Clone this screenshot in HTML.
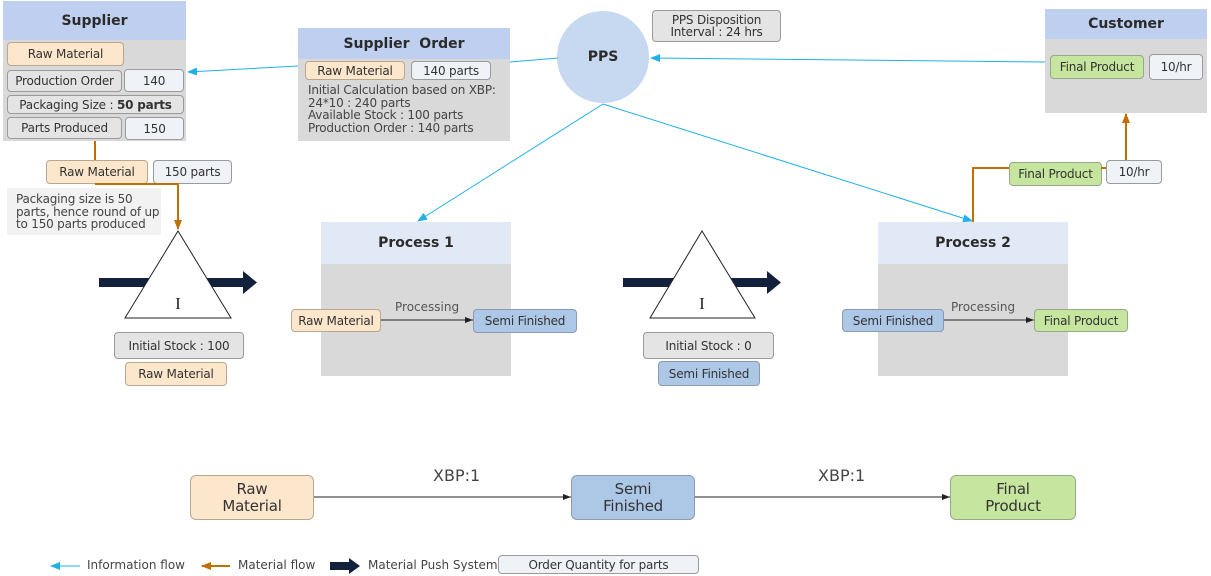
<!DOCTYPE html>
<html><head><meta charset="utf-8"><style>
body{margin:0;width:1211px;height:576px;background:#fff;position:relative;overflow:hidden;font-family:"DejaVu Sans","Liberation Sans",sans-serif;font-size:12px;color:#333}
.a{position:absolute;box-sizing:border-box}
.p{position:absolute;box-sizing:border-box;border:1px solid #9a9a9a;border-radius:4px;display:flex;align-items:center;justify-content:center;font-size:12px;color:#333;white-space:nowrap;letter-spacing:-0.2px}
.o{background:#fde7cc;border-color:#b9a78e}
.g{background:#e4e4e4}
.w{background:#eff3f8}
.b{background:#adc7e6;border-color:#8a9ab0}
.gr{background:#c6e59f;border-color:#98a88a}
.hd{display:flex;align-items:center;justify-content:center;font-weight:bold;font-size:14px;color:#2b2b2b}
.big{font-size:15px;border-radius:6px;text-align:center;line-height:17px;white-space:normal}
svg{position:absolute;left:0;top:0}
</style></head><body>
<div class="a hd" style="left:3px;top:1px;width:183px;height:39px;background:#bfcff0">Supplier</div>
<div class="a" style="left:3px;top:40px;width:183px;height:101px;background:#d9d9d9"></div>
<div class="p o" style="left:7px;top:42px;width:117px;height:24px">Raw Material</div>
<div class="p g" style="left:7px;top:70px;width:115px;height:22px">Production Order</div>
<div class="p w" style="left:124px;top:69px;width:60px;height:23px">140</div>
<div class="p g" style="left:7px;top:95px;width:177px;height:19px">Packaging Size :&nbsp;<b>50 parts</b></div>
<div class="p g" style="left:7px;top:117px;width:115px;height:22px">Parts Produced</div>
<div class="p w" style="left:125px;top:117px;width:59px;height:23px">150</div>
<div class="a hd" style="left:298px;top:28px;width:212px;height:31px;background:#bfcff0">Supplier&nbsp; Order</div>
<div class="a" style="left:298px;top:59px;width:212px;height:82px;background:#d9d9d9"></div>
<div class="p o" style="left:305px;top:61px;width:100px;height:19px">Raw Material</div>
<div class="p w" style="left:411px;top:61px;width:80px;height:19px">140 parts</div>
<div class="a" style="left:308px;top:84px;font-size:12px;line-height:12.6px;color:#444;letter-spacing:-0.2px">Initial Calculation based on XBP:<br>24*10 : 240 parts<br>Available Stock : 100 parts<br>Production Order : 140 parts</div>
<div class="p o" style="left:46px;top:160px;width:102px;height:24px">Raw Material</div>
<div class="p w" style="left:153px;top:160px;width:79px;height:24px">150 parts</div>
<div class="a" style="left:7px;top:188px;width:154px;height:47px;background:#f2f2f2;padding:5px 0 0 9px;line-height:12.5px;color:#444;letter-spacing:-0.2px">Packaging size is 50 parts, hence round of up to 150 parts produced</div>
<div class="a hd" style="left:557px;top:11px;width:92px;height:92px;border-radius:50%;background:#c6d9f0">PPS</div>
<div class="p g" style="left:652px;top:10px;width:129px;height:32px;white-space:normal;text-align:center;line-height:12px">PPS Disposition<br>Interval : 24 hrs</div>
<div class="a hd" style="left:1045px;top:9px;width:162px;height:30px;background:#bfcff0">Customer</div>
<div class="a" style="left:1045px;top:39px;width:162px;height:74px;background:#d9d9d9"></div>
<div class="p gr" style="left:1050px;top:55px;width:94px;height:24px">Final Product</div>
<div class="p w" style="left:1149px;top:54px;width:54px;height:26px">10/hr</div>
<div class="p gr" style="left:1009px;top:162px;width:93px;height:24px">Final Product</div>
<div class="p w" style="left:1106px;top:160px;width:56px;height:24px">10/hr</div>
<div class="a hd" style="left:321px;top:222px;width:190px;height:42px;background:#e0e9f5">Process 1</div>
<div class="a" style="left:321px;top:264px;width:190px;height:112px;background:#d9d9d9"></div>
<div class="p o" style="left:291px;top:309px;width:90px;height:23px">Raw Material</div>
<div class="p b" style="left:473px;top:309px;width:104px;height:24px">Semi Finished</div>
<div class="a" style="left:395px;top:300px;color:#555">Processing</div>
<div class="a hd" style="left:878px;top:222px;width:190px;height:42px;background:#e0e9f5">Process 2</div>
<div class="a" style="left:878px;top:264px;width:190px;height:112px;background:#d9d9d9"></div>
<div class="p b" style="left:842px;top:309px;width:102px;height:23px">Semi Finished</div>
<div class="p gr" style="left:1034px;top:309px;width:94px;height:23px">Final Product</div>
<div class="a" style="left:951px;top:300px;color:#555">Processing</div>
<div class="p g" style="left:114px;top:332px;width:130px;height:27px">Initial Stock : 100</div>
<div class="p o" style="left:125px;top:362px;width:102px;height:24px">Raw Material</div>
<div class="p g" style="left:643px;top:332px;width:131px;height:27px">Initial Stock : 0</div>
<div class="p b" style="left:658px;top:361px;width:102px;height:25px">Semi Finished</div>
<div class="p o big" style="left:190px;top:475px;width:124px;height:45px">Raw<br>Material</div>
<div class="p b big" style="left:571px;top:475px;width:124px;height:45px">Semi<br>Finished</div>
<div class="p gr big" style="left:950px;top:475px;width:126px;height:45px">Final<br>Product</div>
<div class="a" style="left:433px;top:466px;font-size:16px;color:#444">XBP:1</div>
<div class="a" style="left:818px;top:466px;font-size:16px;color:#444">XBP:1</div>
<div class="a" style="left:87px;top:558px;color:#444">Information flow</div>
<div class="a" style="left:238px;top:558px;color:#444">Material flow</div>
<div class="a" style="left:368px;top:558px;color:#444">Material Push System</div>
<div class="p w" style="left:498px;top:555px;width:201px;height:19px">Order Quantity for parts</div>

<svg width="1211" height="576" viewBox="0 0 1211 576">
<defs>
<marker id="bl" markerWidth="10" markerHeight="8" refX="9" refY="4" orient="auto" markerUnits="userSpaceOnUse"><path d="M0,0L10,4L0,8z" fill="#1fb0ea"/></marker>
<marker id="or" markerWidth="10" markerHeight="8" refX="9" refY="4" orient="auto" markerUnits="userSpaceOnUse"><path d="M0,0L10,4L0,8z" fill="#c07000"/></marker>
<marker id="bk" markerWidth="8" markerHeight="6" refX="8" refY="3" orient="auto" markerUnits="userSpaceOnUse"><path d="M0,0L8,3L0,6z" fill="#222"/></marker>
</defs>
<g stroke="#1fb0ea" stroke-width="1" fill="none">
<line x1="298" y1="66" x2="188" y2="72" marker-end="url(#bl)"/>
<line x1="510" y1="62" x2="558" y2="58"/>
<line x1="1045" y1="62" x2="651" y2="58" marker-end="url(#bl)"/>
<line x1="603" y1="104" x2="418" y2="221" marker-end="url(#bl)"/>
<line x1="603" y1="104" x2="972" y2="221" marker-end="url(#bl)"/>
<line x1="80" y1="566" x2="51" y2="566" marker-end="url(#bl)"/>
</g>
<g stroke="#c07000" stroke-width="2" fill="none">
<line x1="95" y1="141" x2="95" y2="160"/>
<polyline points="95,184 178,184 178,229" marker-end="url(#or)"/>
<polyline points="1009,168 973,168 973,222"/>
<line x1="1101" y1="168" x2="1106" y2="168"/>
<line x1="1126" y1="160" x2="1126" y2="114" marker-end="url(#or)"/>
<line x1="230" y1="566" x2="202" y2="566" marker-end="url(#or)"/>
</g>
<g fill="#14213d">
<rect x="99" y="278" width="146" height="9"/><path d="M243,271L257,282.5L243,294z"/>
<rect x="623" y="278" width="146" height="9"/><path d="M767,271L781,282.5L767,294z"/>
<rect x="330" y="562" width="20" height="8"/><path d="M349,558L360,566L349,574z"/>
</g>
<g fill="#fff" stroke="#222" stroke-width="1">
<path d="M178,231L231,318L125,318z"/>
<path d="M702,231L755,318L650,318z"/>
</g>
<text x="178" y="309" font-family="Liberation Serif,serif" font-size="17" text-anchor="middle" fill="#222">I</text>
<text x="702" y="309" font-family="Liberation Serif,serif" font-size="17" text-anchor="middle" fill="#222">I</text>
<g stroke="#222" stroke-width="1">
<line x1="381" y1="320" x2="473" y2="320" marker-end="url(#bk)"/>
<line x1="944" y1="320" x2="1034" y2="320" marker-end="url(#bk)"/>
<line x1="314" y1="497" x2="571" y2="497" marker-end="url(#bk)"/>
<line x1="695" y1="497" x2="950" y2="497" marker-end="url(#bk)"/>
</g>
</svg>
</body></html>
